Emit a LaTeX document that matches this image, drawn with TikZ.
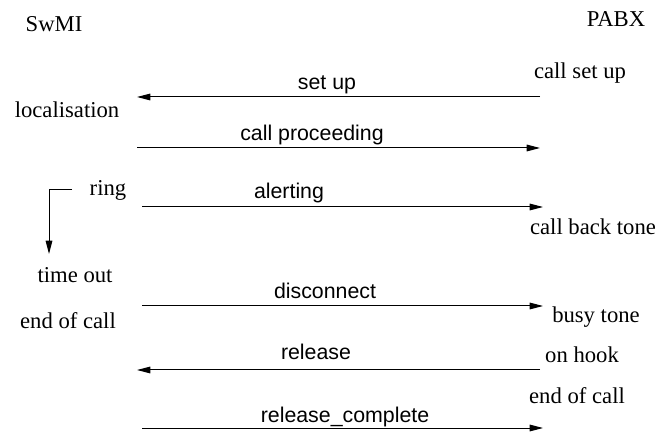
\documentclass[tikz,border=0pt]{standalone}
\usepackage{fontspec}
\setmainfont{Liberation Serif}
\setsansfont{Liberation Sans}
\usetikzlibrary{arrows.meta}

\tikzset{
  state/.style={anchor=base,inner sep=0pt,font=\fontsize{17}{20}\selectfont},
  msg/.style={anchor=base,inner sep=0pt,font=\sffamily\fontsize{16}{19}\selectfont},
  flow/.style={line width=0.75pt,-{Triangle[length=10pt,width=5pt]}}
}

\begin{document}
\begin{tikzpicture}[x=0.75pt,y=-0.75pt]
\useasboundingbox (0,0) rectangle (660,434);
\node[state] (S) at (54,32) {SwMI};
\node[state] (P) at (616,27) {PABX};
\node[state] (A) at (580,79) {call set up};
\node[state] (B) at (67,118) {localisation};
\node[state] (C) at (108,196) {ring};
\node[state] (D) at (593,235) {call back tone};
\node[state] (E) at (75,283) {time out};
\node[state] (F) at (68,329) {end of call};
\node[state] (G) at (596,323) {busy tone};
\node[state] (H) at (582,363) {on hook};
\node[state] (I) at (577,403) {end of call};

\node[msg] (m1) at (327,90) {set up};
\node[msg] (m2) at (312,141) {call proceeding};
\node[msg] (m3) at (289,199) {alerting};
\node[msg] (m4) at (325,299) {disconnect};
\node[msg] (m5) at (316,359) {release};
\node[msg] (m6) at (345,422) {release\_complete};

\coordinate (a1) at (540,97);  \coordinate (a2) at (137,97);
\coordinate (b1) at (137,148); \coordinate (b2) at (540,148);
\coordinate (c1) at (142,207); \coordinate (c2) at (543,207);
\coordinate (d1) at (142,306); \coordinate (d2) at (543,306);
\coordinate (e1) at (540,370); \coordinate (e2) at (137,370);
\coordinate (f1) at (142,428); \coordinate (f2) at (543,428);
\coordinate (r1) at (72,190);  \coordinate (r2) at (49,254);

\draw[flow] (a1) -- (a2);
\draw[flow] (b1) -- (b2);
\draw[flow] (c1) -- (c2);
\draw[flow] (d1) -- (d2);
\draw[flow] (e1) -- (e2);
\draw[flow] (f1) -- (f2);
\draw[flow] (r1) -| (r2);

\end{tikzpicture}
\end{document}
